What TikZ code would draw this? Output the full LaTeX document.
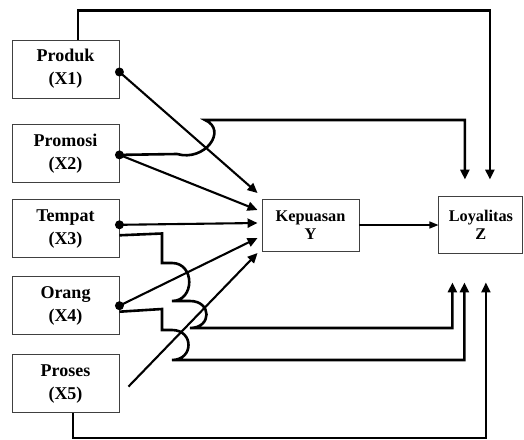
\documentclass[tikz,border=0pt]{standalone}
\usepackage{fontspec}
\setmainfont{Liberation Serif}
\usetikzlibrary{arrows.meta, positioning}

\begin{document}
\begin{tikzpicture}[
    x=1pt, y=-1pt,
    node distance=18pt,
    var/.style={rectangle, draw=black!75, line width=0.9pt, minimum width=107pt, minimum height=58pt, align=center, font=\fontsize{18}{23}\selectfont\bfseries},
    mid/.style={var, minimum width=97pt, minimum height=52pt, font=\fontsize{16.3}{17.5}\selectfont\bfseries},
    arrow/.style={-{Triangle[length=10pt,width=9pt]}, line width=2.1pt},
    link/.style={arrow, line width=2.6pt},
    thin/.style={-{Triangle[length=9pt,width=7pt]}, line width=1.3pt}
]
\useasboundingbox (0,0) rectangle (524,439);

\node[var] (x1) at (65.5,69) {Produk\\(X1)};
\node[var, below=26pt of x1] (x2) {Promosi\\(X2)};
\node[var, below=16pt of x2] (x3) {Tempat\\(X3)};
\node[var, below=of x3] (x4) {Orang\\(X4)};
\node[var, below=19pt of x4] (x5) {Proses\\(X5)};
\node[mid] (kep) at (310.5,225) {Kepuasan\\Y};
\node[mid, right=79pt of kep, minimum width=84pt, minimum height=57pt] (loy) {Loyalitas\\Z};

% dots
\fill ([yshift=-3pt]x1.east) circle (4.5pt);
\fill ([yshift=-1pt]x2.east) circle (4.5pt);
\fill ([yshift=4pt]x3.east) circle (4.5pt);
\fill (x4.east) circle (4.5pt);

% into Kepuasan
\draw[arrow] ([yshift=-3pt]x1.east) -- ([xshift=-4pt,yshift=32pt]kep.west);
\draw[arrow] ([yshift=-1pt]x2.east) -- ([xshift=-4pt,yshift=15pt]kep.west);
\draw[arrow] ([yshift=4pt]x3.east) -- ([xshift=-4pt,yshift=2pt]kep.west);
\draw[arrow] (x4.east) -- ([xshift=-4pt,yshift=-13pt]kep.west);
\draw[arrow] ([xshift=9pt,yshift=-3pt]x5.east) -- ([xshift=-4pt,yshift=-28pt]kep.west);
\draw[thin] (kep) -- (loy);

% direct paths to Loyalitas
\draw[link, line width=2.4pt, shorten >=16.5pt] ([xshift=12.5pt]x1.north) -- ++(0,-29) -| ([xshift=9pt]loy.north);
\draw[link, shorten >=16.5pt] ([yshift=-1pt]x2.east) -- (177,154)
    .. controls (205,162) and (228,130) .. (205,120) -| ([xshift=-16pt]loy.north);
\draw[link, shorten >=28.5pt] ([yshift=-6.5pt]x3.east) -- (162,233.5) -- (162,263) -- (172,263)
    .. controls (195,263) and (195,301) .. (172,301) -- (190,301)
    .. controls (212,301) and (212,328) .. (190,328) -| ([xshift=-28.5pt]loy.south);
\draw[link, shorten >=28.5pt] ([yshift=-6pt]x4.east) -- (162,309) -- (162,330) -- (172,330)
    .. controls (194,330) and (194,360) .. (172,360) -| ([xshift=-16.5pt]loy.south);
\draw[arrow, shorten >=28.5pt] ([xshift=7.5pt]x5.south) -- ++(0,25) -| ([xshift=5pt]loy.south);

\end{tikzpicture}
\end{document}
